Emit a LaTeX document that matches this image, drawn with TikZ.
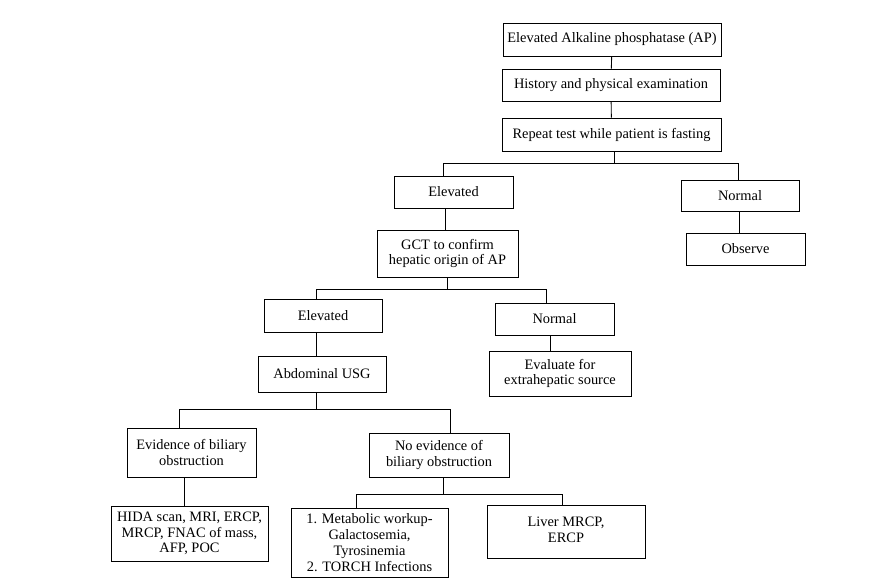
\documentclass[tikz,border=0pt]{standalone}
\usepackage{fontspec}
\setmainfont{Liberation Serif}
\usetikzlibrary{positioning,calc}

\begin{document}
\begin{tikzpicture}[
  x=1pt, y=-1pt,
  font=\fontsize{14.4}{15.8}\selectfont,
  box/.style={draw, line width=0.9pt, align=center, inner sep=0pt},
  link/.style={line width=0.9pt}
]
\useasboundingbox (0,0) rectangle (889,581);

\node[box, minimum width=218, minimum height=33] (ap) at (612,39.5) {Elevated Alkaline phosphatase (AP)};
\node[box, minimum width=218, minimum height=32] (hist) at (611,85) {History and physical examination};
\node[box, minimum width=219, minimum height=33] (rep) at (611.5,134.5) {Repeat test while patient is fasting};

\node[box, minimum width=119, minimum height=32] (elev) at (453.5,192) {Elevated};
\node[box, minimum width=118, minimum height=31] (norm) at (740,195.5) {Normal};
\node[box, minimum width=141, minimum height=47] (gct) at (447.5,253.5) {GCT to confirm\\hepatic origin of AP};
\node[box, minimum width=119, minimum height=32] (obs) at (745.5,249) {Observe};

\node[box, minimum width=118, minimum height=33] (elevb) at (323,315.5) {Elevated};
\node[box, minimum width=119, minimum height=32] (normb) at (554.5,319) {Normal};
\node[box, minimum width=128, minimum height=36] (usg) at (322,374) {Abdominal USG};
\node[box, minimum width=142, minimum height=45] (extra) at (560,373.5) {Evaluate for\\extrahepatic source};

\node[box, minimum width=129, minimum height=49] (obst) at (191.5,452.5) {Evidence of biliary\\obstruction};
\node[box, minimum width=140, minimum height=44] (noobst) at (439,455) {No evidence of\\biliary obstruction};

\node[box, minimum width=157, minimum height=55] (hida) at (189.5,533.5) {HIDA scan, MRI, ERCP,\\MRCP, FNAC of mass,\\AFP, POC};
\node[box, minimum width=157, minimum height=69] (meta) at (369.5,542.5) {1. Metabolic workup-\\Galactosemia,\\Tyrosinemia\\2. TORCH Infections};
\node[box, minimum width=158, minimum height=53, text depth=4pt] (liver) at (566,531.5) {Liver MRCP,\\ERCP};

% straight links
\draw[link] (ap) -- (hist);
\draw[link] (hist) -- (rep);
\draw[link] ([xshift=-8]elev.south) -- ([xshift=-8]elev.south |- gct.north);
\draw[link] ([xshift=-1]norm.south) -- ([xshift=-1]norm.south |- obs.north);
\draw[link] ([xshift=-7]elevb.south) -- ([xshift=-7]elevb.south |- usg.north);
\draw[link] ([xshift=-4]normb.south) -- ([xshift=-4]normb.south |- extra.north);
\draw[link] ([xshift=-7]obst.south) -- ([xshift=-7]obst.south |- hida.north);

% branch links
\draw[link] ([xshift=3]rep.south) -- ++(0,12) coordinate (b1);
\draw[link] (b1) -| ([xshift=-10]elev.north);
\draw[link] (b1) -| ([xshift=-2]norm.north);

\draw[link] (gct.south) -- ++(0,12) coordinate (b2);
\draw[link] (b2) -| ([xshift=-7]elevb.north);
\draw[link] (b2) -| ([xshift=-8]normb.north);

\draw[link] ([xshift=-6]usg.south) -- ++(0,17) coordinate (b3);
\draw[link] (b3) -| ([xshift=-12]obst.north);
\draw[link] (b3) -| ([xshift=11]noobst.north);

\draw[link] ([xshift=4]noobst.south) -- ++(0,17) coordinate (b4);
\draw[link] (b4) -| ([xshift=-13]meta.north);
\draw[link] (b4) -| ([xshift=-4]liver.north);
\end{tikzpicture}
\end{document}
